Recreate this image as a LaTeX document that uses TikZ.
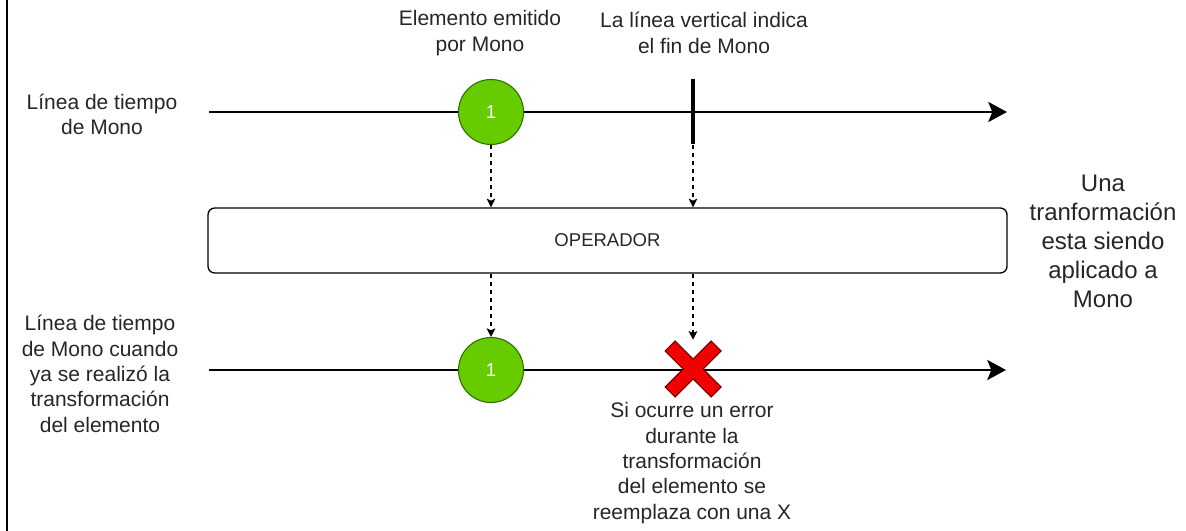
\documentclass[tikz,border=0pt]{standalone}
\usepackage{fontspec}
\setmainfont{Liberation Sans}
\usetikzlibrary{arrows.meta}

\begin{document}
\begin{tikzpicture}[x = 0.75pt, y = -0.75pt,
                    txt/.style = {align=center, text=black!85, font=\fontsize{15.75}{19}\selectfont},
                    bigtxt/.style = {align=center, text=black!85, font=\fontsize{18}{21.75}\selectfont},
                    timeline/.style = {line width=2pt, -{Stealth[length=14pt, width=15pt, inset=3pt]}},
                    flow/.style = {line width=1pt, dash pattern=on 3pt off 3pt, -{Stealth[length=6.5pt, width=6.5pt, inset=1.5pt]}},
                    elem/.style = {circle, draw={rgb,255:red,45;green,110;blue,0}, line width=0.8pt,
                                   fill={rgb,255:red,102;green,204;blue,0}, text=white, minimum size=48.75pt,
                                   inner sep=0pt, font=\fontsize{14}{16}\selectfont},
                    endbar/.style = {fill=black, minimum width=3pt, minimum height=48.75pt, inner sep=0pt},
                    opbox/.style = {draw, line width=1pt, rounded corners=5pt, minimum width=599.25pt,
                                    minimum height=48.75pt, text=black!85, font=\fontsize{13.9}{16}\selectfont},
                    xmark/.style = {fill={rgb,255:red,240;green,0;blue,0}, draw={rgb,255:red,110;green,0;blue,0}, line width=0.8pt}]

\useasboundingbox (0,0) rectangle (1186,531);

% left border
\coordinate (b1) at (7,0);
\coordinate (b2) at (7,531);
\draw[line width=0.8pt] (b1) -- (b2);

% labels
\node[txt] (lbl1) at (102,114.5) {Línea de tiempo\\de Mono};
\node[txt] (lbl2) at (100,374) {Línea de tiempo\\de Mono cuando\\ya se realizó la\\transformación\\del elemento};
\node[txt] (emit) at (480,33) {Elemento emitido\\por Mono};
\node[txt] (finlbl) at (704,33) {La línea vertical indica\\el fin de Mono};
\node[bigtxt] (trans) at (1103,241.5) {Una\\tranformación\\esta siendo\\aplicado a\\Mono};
\node[txt] (errlbl) at (692,463) {Si ocurre un error\\durante la\\transformación\\del elemento se\\reemplaza con una X};

% timelines
\coordinate (t1s) at (209,112);
\coordinate (t1e) at (1007,112);
\coordinate (t2s) at (209,370);
\coordinate (t2e) at (1006,370);
\draw[timeline] (t1s) -- (t1e);
\draw[timeline] (t2s) -- (t2e);

% top: element and end of Mono
\node[elem] (e1) at (491,112) {1};
\node[endbar] (fin) at (693,112) {};

% operator
\node[opbox] (op) at (607.5,240.5) {OPERADOR};

% bottom: element and error
\node[elem] (e2) at (491,370) {1};
\node[minimum size=43.5pt, inner sep=0pt] (err) at (693,369) {};
\path[xmark, shift={(err.center)}] (-28,-18) -- (-18,-28) -- (0,-10) -- (18,-28) -- (28,-18) -- (10,0)
      -- (28,18) -- (18,28) -- (0,10) -- (-18,28) -- (-28,18) -- (-10,0) -- cycle;

\draw[flow] (e1) -- (op.north -| e1);
\draw[flow] (fin) -- (op.north -| fin);
\draw[flow] (op.south -| e2) -- (e2);
\draw[flow] (op.south -| err) -- (err);
\end{tikzpicture}
\end{document}
